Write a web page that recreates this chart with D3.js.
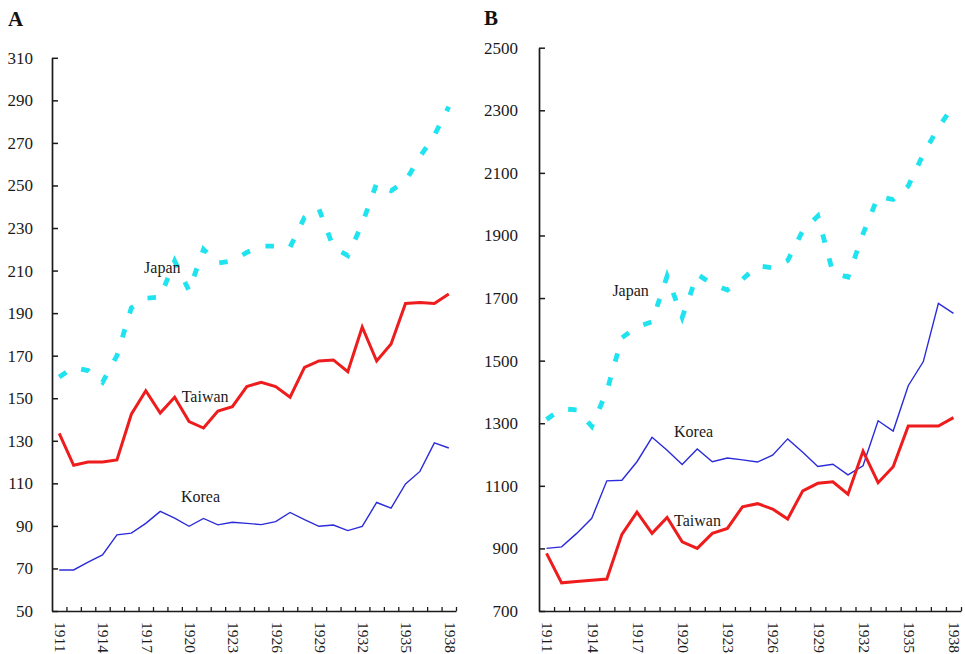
<!DOCTYPE html>
<html>
<head>
<meta charset="utf-8">
<script src="https://cdn.jsdelivr.net/npm/d3@7"></script>
<style>
  body { margin: 0; background: #ffffff; }
  svg { display: block; }
</style>
</head>
<body>
<svg id="chart" width="965" height="654"></svg>
<script>
// ---------- DATA ----------
const years = [1911, 1912, 1913, 1914, 1915, 1916, 1917, 1918, 1919, 1920,
               1921, 1922, 1923, 1924, 1925, 1926, 1927, 1928, 1929, 1930,
               1931, 1932, 1933, 1934, 1935, 1936, 1937, 1938];
const labelYears = [1911, 1914, 1917, 1920, 1923, 1926, 1929, 1932, 1935, 1938];

// Panel A
const japanA  = [160, 164.5, 163, 157.5, 170, 192.5, 197, 197.5, 214.5, 200.5,
                 220, 213.5, 214.5, 218.5, 221.5, 221.5, 221, 235, 239, 221,
                 217, 232, 251, 247.5, 252, 263.5, 273.5, 287];
const taiwanA = [133.5, 118.5, 120, 120, 121, 142.5, 153.5, 143, 150.5, 139,
                 136, 144, 146, 155.5, 157.5, 155.5, 150.5, 164.5, 167.5, 168,
                 162.5, 183.5, 167.5, 175.5, 194.5, 195, 194.5, 199];
const koreaA  = [69.3, 69.3, 73, 76.4, 85.8, 86.6, 91.2, 96.8, 93.6, 89.8,
                 93.5, 90.5, 91.7, 91.2, 90.6, 92, 96.3, 92.9, 89.8, 90.4,
                 87.8, 89.8, 101, 98.3, 109.7, 115.6, 129, 126.6];
const ticksA  = [50, 70, 90, 110, 130, 150, 170, 190, 210, 230, 250, 270, 290, 310];

// Panel B
const japanB  = [1312, 1346, 1343, 1290, 1402, 1573, 1608, 1624, 1770, 1638,
                 1776, 1745, 1726, 1760, 1803, 1797, 1820, 1915, 1962, 1781,
                 1767, 1905, 2025, 2015, 2058, 2160, 2245, 2315];
const taiwanB = [884, 790, 794, 798, 802, 945, 1016, 948, 999, 921,
                 900, 948, 964, 1033, 1043, 1026, 994, 1084, 1108, 1113,
                 1073, 1211, 1110, 1161, 1291, 1291, 1291, 1318];
const koreaB  = [900, 905, 948, 996, 1116, 1118, 1177, 1255, 1214, 1168,
                 1218, 1177, 1189, 1183, 1176, 1198, 1250, 1207, 1162, 1169,
                 1135, 1164, 1308, 1275, 1420, 1497, 1683, 1651];
const ticksB  = [700, 900, 1100, 1300, 1500, 1700, 1900, 2100, 2300, 2500];

// Series names and in-chart label anchors (in data units: year, value)
const seriesNames = ["Japan", "Taiwan", "Korea"];
const labelAnchorsA = [[1916.88, 208.9], [1919.49, 148.2], [1919.44, 101.2]];
const labelAnchorsB = [[1915.37, 1706.6], [1919.46, 971.6], [1919.46, 1256]];

// ---------- STYLE ----------
const FONT = "'Liberation Serif', 'Times New Roman', Times, serif";
const INK = "#1a1a1a";
const styles = {
  Japan:  { color: "#1fe3ef", width: 4.8, dash: "8.5,16.5" },
  Taiwan: { color: "#ee1c1c", width: 3,   dash: null },
  Korea:  { color: "#2b2bd9", width: 1.4, dash: null }
};

const svg = d3.select("#chart");

function drawPanel(p) {
  const g = svg.append("g");

  const x = d3.scaleBand().domain(years).range([p.x0, p.x1]).padding(0);
  const xc = d => x(d) + x.bandwidth() / 2;
  const xLin = d3.scaleLinear()
    .domain([years[0], years[years.length - 1]])
    .range([xc(years[0]), xc(years[years.length - 1])]);
  const y = d3.scaleLinear().domain(p.domain).range([p.yBottom, p.yTop]);

  // series lines (Korea, Taiwan, Japan order)
  const line = d3.line().x((d, i) => xc(years[i])).y(d => y(d));
  const order = ["Korea", "Taiwan", "Japan"];
  order.forEach(name => {
    const st = styles[name];
    const path = g.append("path")
      .datum(p.series[name])
      .attr("fill", "none")
      .attr("stroke", st.color)
      .attr("stroke-width", st.width)
      .attr("stroke-linejoin", "miter")
      .attr("d", line);
    if (st.dash) path.attr("stroke-dasharray", st.dash).attr("stroke-linecap", "butt");
  });

  // y axis
  const ya = g.append("g")
    .attr("transform", `translate(${p.x0},0)`)
    .call(d3.axisLeft(y).tickValues(p.ticks).tickFormat(d3.format("d"))
      .tickSize(-6).tickSizeOuter(0).tickPadding(p.pad))
    .attr("font-family", FONT)
    .attr("font-size", 17);
  ya.select(".domain").attr("stroke", INK).attr("stroke-width", 1.7);
  ya.selectAll(".tick line").attr("stroke", INK).attr("stroke-width", 1.5);
  ya.selectAll(".tick text")
    .attr("fill", INK)
    .style("font-family", FONT)
    .style("font-size", "17px");

  // x axis: ticks at category boundaries
  const xe = d3.scaleLinear().domain([0, years.length]).range([p.x0, p.x1]);
  const xa = g.append("g")
    .attr("transform", `translate(0,${p.yBottom})`)
    .call(d3.axisBottom(xe).tickValues(d3.range(1, years.length + 1))
      .tickSize(-4).tickSizeOuter(0).tickFormat(""));
  xa.select(".domain").attr("stroke", INK).attr("stroke-width", 1.7);
  xa.selectAll(".tick line").attr("stroke", INK).attr("stroke-width", 1.3);

  // x labels (rotated, reading downward)
  g.selectAll("text.xlab")
    .data(labelYears)
    .join("text")
    .attr("class", "xlab")
    .attr("transform", d => `translate(${xc(d) + 1},${p.yBottom + 11}) rotate(90)`)
    .attr("dy", "0.33em")
    .attr("text-anchor", "start")
    .attr("fill", INK)
    .style("font-family", FONT)
    .style("font-size", "15.5px")
    .text(d => d);

  // series labels
  seriesNames.forEach((name, i) => {
    const a = p.anchors[i];
    g.append("text")
      .attr("x", xLin(a[0]))
      .attr("y", y(a[1]))
      .attr("fill", INK)
      .style("font-family", FONT)
      .style("font-size", "16px")
      .text(name);
  });

  // panel letter
  g.append("text")
    .attr("x", p.letterX)
    .attr("y", p.letterY)
    .attr("fill", "#111")
    .style("font-family", FONT)
    .style("font-size", "21px")
    .style("font-weight", "bold")
    .text(p.letter);
}

drawPanel({
  letter: "A", letterX: 8, letterY: 26,
  x0: 52, x1: 456, yTop: 57.8, yBottom: 611,
  domain: [50, 310], ticks: ticksA, pad: 19,
  series: { Japan: japanA, Taiwan: taiwanA, Korea: koreaA },
  anchors: labelAnchorsA
});

drawPanel({
  letter: "B", letterX: 484, letterY: 25,
  x0: 539, x1: 961, yTop: 47.7, yBottom: 611,
  domain: [700, 2500], ticks: ticksB, pad: 21,
  series: { Japan: japanB, Taiwan: taiwanB, Korea: koreaB },
  anchors: labelAnchorsB
});
</script>
</body>
</html>
